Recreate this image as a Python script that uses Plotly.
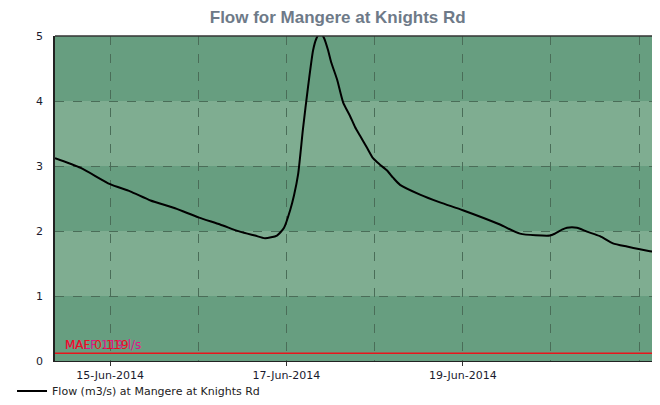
import plotly.graph_objects as go

# flow readings (m3/s)
times = [
    "2014-06-14 09:00", "2014-06-14 16:00", "2014-06-15 00:00", "2014-06-15 05:27",
    "2014-06-15 11:00", "2014-06-15 17:41", "2014-06-16 00:00", "2014-06-16 05:56",
    "2014-06-16 11:20", "2014-06-16 15:27", "2014-06-16 18:10", "2014-06-16 21:25",
    "2014-06-16 23:21", "2014-06-17 01:00", "2014-06-17 02:04", "2014-06-17 03:10",
    "2014-06-17 04:30", "2014-06-17 05:53", "2014-06-17 07:15", "2014-06-17 08:04",
    "2014-06-17 09:09", "2014-06-17 10:13", "2014-06-17 11:20", "2014-06-17 12:09",
    "2014-06-17 13:47", "2014-06-17 15:25", "2014-06-17 17:18", "2014-06-17 18:40",
    "2014-06-17 20:00", "2014-06-17 21:56", "2014-06-17 23:34", "2014-06-18 01:28",
    "2014-06-18 03:23", "2014-06-18 05:01", "2014-06-18 06:55", "2014-06-18 12:21",
    "2014-06-18 17:47", "2014-06-19 00:00", "2014-06-19 10:07", "2014-06-19 15:34",
    "2014-06-19 23:44", "2014-06-20 01:05", "2014-06-20 03:00", "2014-06-20 04:21",
    "2014-06-20 07:05", "2014-06-20 09:48", "2014-06-20 13:20", "2014-06-20 16:52",
    "2014-06-20 20:41", "2014-06-21 00:13", "2014-06-21 02:56", "2014-06-21 05:40",
]
flow = [
    3.12, 2.97, 2.72, 2.61,
    2.47, 2.35, 2.21, 2.10,
    1.99, 1.93, 1.89, 1.93,
    2.05, 2.32, 2.55, 2.87,
    3.57, 4.22, 4.78, 4.95,
    5.05, 4.97, 4.78, 4.60,
    4.33, 3.98, 3.77, 3.60,
    3.47, 3.28, 3.12, 3.02,
    2.93, 2.82, 2.71, 2.56,
    2.44, 2.32, 2.10, 1.96,
    1.93, 1.96, 2.02, 2.05,
    2.05, 1.99, 1.92, 1.81,
    1.76, 1.72, 1.69, 1.66,
]

malf = 0.119
x_start = "2014-06-14 09:00"
x_end = "2014-06-21 03:30"
date_ticks = ["2014-06-15", "2014-06-17", "2014-06-19"]
date_labels = ["15-Jun-2014", "17-Jun-2014", "19-Jun-2014"]

dark_band = "rgb(103,158,128)"
light_band = "rgb(127,173,145)"

fig = go.Figure()

# alternating background bands
for lo in range(0, 5):
    fig.add_hrect(y0=lo, y1=lo + 1, fillcolor=dark_band if lo % 2 == 0 else light_band,
                  opacity=1, line_width=0, layer="below")

fig.add_trace(go.Scatter(
    x=[x_start, x_end], y=[malf, malf], mode="lines",
    line=dict(color="#e8141c", width=1.5), showlegend=False, hoverinfo="skip"
))
fig.add_trace(go.Scatter(
    x=times, y=flow, mode="lines", line=dict(color="black", width=2, shape="spline",
                                             smoothing=0.6),
    name="Flow (m3/s) at Mangere at Knights Rd"
))

# two MALF labels drawn on top of each other, as in the source chart
fig.add_annotation(x=x_start, y=malf, xref="x", yref="y", xanchor="left", yanchor="bottom",
                   xshift=8, yshift=-1, text="MALF 119 l/s", showarrow=False,
                   font=dict(color="#e0108c", size=12, family="DejaVu Sans"))
fig.add_annotation(x=x_start, y=malf, xref="x", yref="y", xanchor="left", yanchor="bottom",
                   xshift=8, yshift=-1, text="MAF 0.119", showarrow=False,
                   font=dict(color="#e8141c", size=12, family="DejaVu Sans"))

# page body has an 8px margin; keep the figure small enough to avoid scrollbars
fig.update_layout(
    width=644, height=389,
    margin=dict(l=47, r=0, t=28, b=36, autoexpand=False),
    paper_bgcolor="white", plot_bgcolor=dark_band,
    title=dict(text="<b>Flow for Mangere at Knights Rd</b>", x=0.512, xanchor="center",
               y=0.977, yanchor="middle", automargin=False,
               font=dict(family="Liberation Sans Narrow, Arial Narrow, sans-serif",
                         size=17, color="#6e7a88")),
    font=dict(family="DejaVu Sans", size=11, color="#1a1a2e"),
    showlegend=True,
    legend=dict(orientation="h", x=-0.072, xanchor="left", y=-0.048, yanchor="top",
                bgcolor="rgba(0,0,0,0)", font=dict(size=11, color="#222")),
    xaxis=dict(
        type="date", range=[x_start, x_end], automargin=False,
        tickvals=date_ticks, ticktext=date_labels,
        ticks="outside", ticklen=4, tickcolor="#333",
        showgrid=True, gridcolor="#4a6d58", griddash="dash", gridwidth=1,
        minor=dict(dtick=86400000, showgrid=True, gridcolor="#4a6d58",
                   griddash="dash", ticks=""),
        showline=True, linecolor="#222", linewidth=1, mirror=False,
        zeroline=False, tickfont=dict(size=11),
    ),
    yaxis=dict(
        range=[0, 5], tickvals=[0, 1, 2, 3, 4, 5], automargin=False,
        showgrid=True, gridcolor="#4a6d58", griddash="dash", gridwidth=1,
        showline=True, linecolor="#222", linewidth=1.5, mirror=False,
        zeroline=False, ticks="", ticklabelstandoff=8,
        tickfont=dict(size=11),
    ),
)

fig.add_shape(type="line", xref="paper", yref="paper", x0=0, x1=1, y0=1, y1=1,
              line=dict(color="#333", width=1.5))

fig.write_html("out.html")
